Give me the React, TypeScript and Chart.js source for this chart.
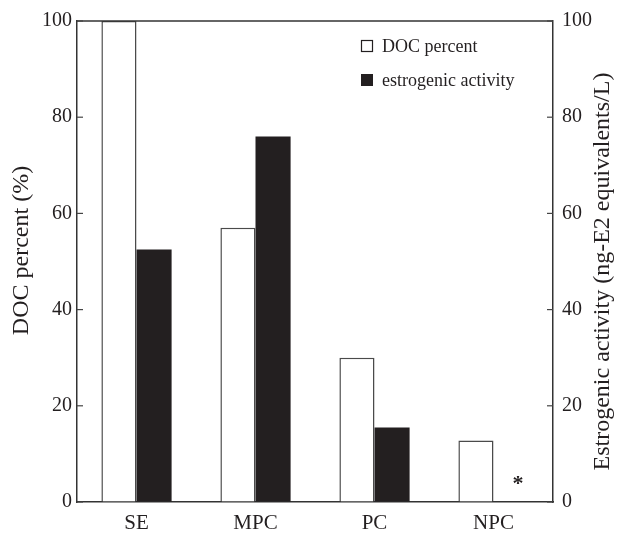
import React, { useEffect, useRef } from "react";
import { Chart, registerables } from "chart.js";

Chart.register(...registerables);

const categories = ["SE", "MPC", "PC", "NPC"];
const docPercent = [100, 57, 30, 12.8];
const estrogenicActivity = [52.5, 76, 15.5, 0];
const yTicks = [0, 20, 40, 60, 80, 100];
const seriesNames = ["DOC percent", "estrogenic activity"];
const leftTitle = "DOC percent (%)";
const rightTitle = "Estrogenic activity (ng-E2 equivalents/L)";
const belowDetectionMark = "*";

const FONT = "'Liberation Serif', 'Times New Roman', serif";
const INK = "#231f20";

export default function App() {
  const ref = useRef<HTMLCanvasElement | null>(null);

  useEffect(() => {
    if (!ref.current) return;

    const decor = {
      id: "decor",
      afterDraw(chart: any) {
        const ctx = chart.ctx;
        const { left, right, top, bottom } = chart.chartArea;
        const y = chart.scales.y;
        const y1 = chart.scales.y1;
        ctx.save();
        // top frame
        ctx.strokeStyle = "#333";
        ctx.lineWidth = 1.5;
        ctx.beginPath();
        ctx.moveTo(left, top);
        ctx.lineTo(right, top);
        ctx.stroke();
        // inward ticks
        ctx.lineWidth = 1.2;
        ctx.strokeStyle = "#444";
        yTicks.forEach((v) => {
          const py = y.getPixelForValue(v);
          ctx.beginPath();
          ctx.moveTo(left, py);
          ctx.lineTo(left + 6, py);
          ctx.stroke();
          const py1 = y1.getPixelForValue(v);
          ctx.beginPath();
          ctx.moveTo(right, py1);
          ctx.lineTo(right - 6, py1);
          ctx.stroke();
        });
        // axis titles
        ctx.fillStyle = INK;
        ctx.font = `24px ${FONT}`;
        ctx.textAlign = "center";
        ctx.textBaseline = "middle";
        ctx.save();
        ctx.translate(22, (top + bottom) / 2 - 11);
        ctx.rotate(-Math.PI / 2);
        ctx.fillText(leftTitle, 0, 0);
        ctx.restore();
        ctx.save();
        ctx.translate(603, (top + bottom) / 2 + 10);
        ctx.rotate(-Math.PI / 2);
        ctx.fillText(rightTitle, 0, 0);
        ctx.restore();
        // legend
        ctx.font = `18px ${FONT}`;
        ctx.textAlign = "left";
        ctx.textBaseline = "middle";
        const lx = 361;
        const rows = [46, 80];
        ctx.lineWidth = 1.2;
        ctx.strokeStyle = INK;
        ctx.fillStyle = "#ffffff";
        ctx.fillRect(lx, rows[0] - 6, 12, 12);
        ctx.strokeRect(lx + 0.5, rows[0] - 5.5, 11, 11);
        ctx.fillStyle = INK;
        ctx.fillRect(lx, rows[1] - 6, 12, 12);
        ctx.fillText(seriesNames[0], lx + 21, rows[0] + 1);
        ctx.fillText(seriesNames[1], lx + 21, rows[1] + 1);
        // asterisk for zero estrogenic values
        const meta = chart.getDatasetMeta(1);
        ctx.font = `bold 22px ${FONT}`;
        ctx.textAlign = "center";
        ctx.textBaseline = "alphabetic";
        estrogenicActivity.forEach((v, i) => {
          if (v === 0) {
            const el = meta.data[i];
            ctx.fillText(belowDetectionMark, el.x + 7, bottom - 12);
          }
        });
        ctx.restore();
      },
    };

    const chart = new Chart(ref.current, {
      type: "bar",
      data: {
        labels: categories,
        datasets: [
          {
            label: seriesNames[0],
            data: docPercent,
            yAxisID: "y",
            backgroundColor: "#ffffff",
            borderColor: "#4a4a4a",
            borderWidth: 1.5,
            categoryPercentage: 0.59,
            barPercentage: 1,
          },
          {
            label: seriesNames[1],
            data: estrogenicActivity,
            yAxisID: "y1",
            backgroundColor: INK,
            borderColor: INK,
            borderWidth: 0,
            categoryPercentage: 0.59,
            barPercentage: 1,
          },
        ],
      },
      options: {
        responsive: false,
        animation: false,
        layout: { padding: { top: 20, left: 0, right: 0, bottom: 0 } },
        plugins: { legend: { display: false }, tooltip: { enabled: false } },
        scales: {
          x: {
            afterFit: (s: any) => {
              s.height = 32;
            },
            grid: { drawOnChartArea: false, drawTicks: false },
            border: { display: true, color: "#333", width: 1.5 },
            ticks: { color: INK, font: { family: FONT, size: 21 }, padding: 9 },
          },
          y: {
            position: "left",
            min: 0,
            max: 100,
            afterFit: (s: any) => {
              s.width = 77;
            },
            afterBuildTicks: (s: any) => {
              s.ticks = yTicks.map((v) => ({ value: v }));
            },
            grid: { drawOnChartArea: false, drawTicks: false },
            border: { display: true, color: "#333", width: 1.5 },
            ticks: { color: INK, font: { family: FONT, size: 20 }, padding: 5 },
          },
          y1: {
            position: "right",
            min: 0,
            max: 100,
            afterFit: (s: any) => {
              s.width = 66;
            },
            afterBuildTicks: (s: any) => {
              s.ticks = yTicks.map((v) => ({ value: v }));
            },
            grid: { drawOnChartArea: false, drawTicks: false },
            border: { display: true, color: "#333", width: 1.5 },
            ticks: { color: INK, font: { family: FONT, size: 20 }, padding: 9 },
          },
        },
      },
      plugins: [decor],
    });

    return () => chart.destroy();
  }, []);

  return (
    <div style={{ position: "absolute", left: 0, top: 0, width: 619, height: 534, background: "#fff" }}>
      <canvas ref={ref} width={619} height={534} style={{ display: "block" }} />
    </div>
  );
}
